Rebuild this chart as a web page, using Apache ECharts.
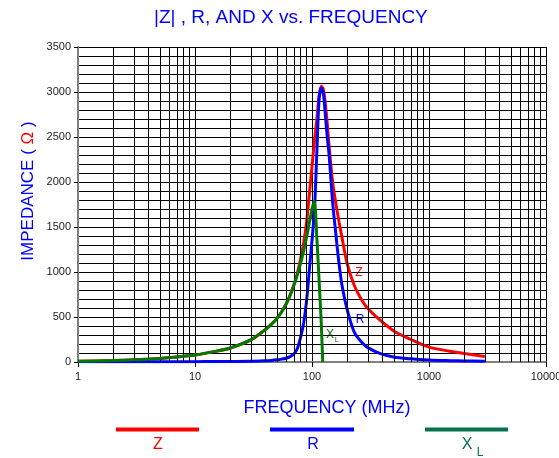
<!DOCTYPE html>
<html>
<head>
<meta charset="utf-8">
<script src="https://cdn.jsdelivr.net/npm/echarts@6/dist/echarts.min.js"></script>
<style>html,body{margin:0;padding:0;background:#fff}#c{width:559px;height:458px}</style>
</head>
<body>
<div id="c"></div>
<script>
// Frequencies (MHz) for |Z| and R
const freqZR = [1, 2, 3, 5, 7, 10, 15, 20, 30, 40, 45, 50, 55, 60, 65, 70, 75, 80, 85, 90, 95, 100, 105, 110, 115, 120, 125, 130, 135, 140, 150, 160, 170, 180, 200, 230, 270, 300, 380, 500, 700, 1000, 1500, 2000, 3000];
// |Z| (ohm)
const zValues = [8, 16, 24, 40, 56, 78, 118, 155, 245, 362, 420, 482, 558, 645, 745, 860, 990, 1150, 1330, 1560, 1870, 2170, 2460, 2700, 2960, 3065, 3030, 2870, 2650, 2400, 2000, 1760, 1560, 1390, 1090, 850, 675, 595, 467, 345, 250, 165, 120, 95, 62];
// R (ohm)
const rValues = [3, 3, 3, 3, 3, 4, 5, 6, 8, 14, 18, 24, 32, 42, 60, 88, 150, 280, 440, 690, 1030, 1350, 1690, 2330, 2920, 3045, 2980, 2750, 2500, 2300, 1780, 1420, 1100, 860, 580, 330, 210, 160, 95, 55, 35, 22, 15, 12, 8];
// Frequencies (MHz) for X_L
const freqX = [1, 2, 3, 5, 7, 10, 15, 20, 30, 40, 45, 50, 55, 60, 65, 70, 75, 80, 85, 90, 95, 100, 105, 110, 115, 120, 123.5];
// X_L (ohm)
const xValues = [8, 16, 24, 40, 56, 78, 118, 155, 245, 360, 418, 480, 555, 640, 740, 850, 970, 1100, 1240, 1390, 1550, 1700, 1785, 1385, 905, 430, 0];

const xDecades = [1, 10, 100, 1000];
const minorMultipliers = [2, 3, 4, 5, 6, 7, 8, 9];

const pairs = (xs, ys) => xs.map((x, i) => [x, ys[i]]);
const minorLines = [];
xDecades.forEach(d => minorMultipliers.forEach(k => minorLines.push({ xAxis: d * k })));

const FONT = "'Liberation Sans', Arial, sans-serif";
const chart = echarts.init(document.getElementById('c'), null, { renderer: 'canvas' });

chart.setOption({
  animation: false,
  backgroundColor: '#fff',
  title: {
    text: '|Z| , R, AND X vs. FREQUENCY',
    left: 149, top: 3,
    textStyle: { color: '#0000ff', fontSize: 19, fontWeight: 'normal', fontFamily: FONT }
  },
  grid: { left: 78, right: 13, top: 47, bottom: 96, containLabel: false, outerBoundsMode: 'none' },
  xAxis: {
    type: 'log', logBase: 10, min: 1, max: 10000,
    axisLine: { show: true, onZero: false, lineStyle: { color: '#808080', width: 2 } },
    axisTick: { show: true, length: 5, lineStyle: { color: '#000' } },
    axisLabel: { color: '#222', fontSize: 11, fontFamily: FONT, margin: 9, formatter: v => String(v) },
    splitLine: { show: true, lineStyle: { color: '#000', width: 1 } }
  },
  yAxis: {
    type: 'value', min: 0, max: 3500, interval: 500,
    axisLine: { show: true, lineStyle: { color: '#808080', width: 2 } },
    axisTick: { show: true, length: 4, lineStyle: { color: '#000' } },
    axisLabel: { color: '#222', fontSize: 11, fontFamily: FONT, margin: 7, formatter: v => String(v) },
    splitLine: { show: true, lineStyle: { color: '#000', width: 1 } },
    minorTick: { show: false, splitNumber: 5 },
    minorSplitLine: { show: true, lineStyle: { color: '#000', width: 1 } }
  },
  series: [
    {
      type: 'line', name: 'grid', data: [], z: 1, silent: true,
      markLine: {
        silent: true, symbol: 'none', animation: false,
        label: { show: false },
        lineStyle: { color: '#000', width: 1, type: 'solid' },
        data: minorLines
      }
    },
    {
      type: 'line', name: 'Z', data: pairs(freqZR, zValues), smooth: 0.3,
      showSymbol: false, z: 3, lineStyle: { color: '#ff0000', width: 3 }, itemStyle: { color: '#ff0000' }
    },
    {
      type: 'line', name: 'R', data: pairs(freqZR, rValues), smooth: 0.3,
      showSymbol: false, z: 4, lineStyle: { color: '#0000ff', width: 3 }, itemStyle: { color: '#0000ff' }
    },
    {
      type: 'line', name: 'XL', data: pairs(freqX, xValues), smooth: 0.2,
      showSymbol: false, z: 5, lineStyle: { color: '#007a00', width: 3 }, itemStyle: { color: '#007a00' }
    }
  ],
  graphic: [
    {
      type: 'text', x: 28, y: 191, rotation: Math.PI / 2,
      style: {
        text: '{b|IMPEDANCE (}{s| }{r|Ω}{s| }{b|)}',
        align: 'center', verticalAlign: 'middle',
        rich: {
          b: { fill: '#0000ff', fontSize: 17, fontFamily: FONT },
          r: { fill: '#ff0000', fontSize: 17, fontFamily: FONT },
          s: { fontSize: 17, fontFamily: FONT }
        }
      }
    },
    {
      type: 'text', x: 327, y: 408,
      style: { text: 'FREQUENCY (MHz)', fill: '#0000ff', font: '18px ' + FONT, align: 'center', verticalAlign: 'middle' }
    },
    { type: 'line', shape: { x1: 116, y1: 429.5, x2: 199, y2: 429.5 }, style: { stroke: '#ff0000', lineWidth: 4 } },
    { type: 'line', shape: { x1: 270, y1: 429.5, x2: 354, y2: 429.5 }, style: { stroke: '#0000ff', lineWidth: 4 } },
    { type: 'line', shape: { x1: 425, y1: 429.5, x2: 508, y2: 429.5 }, style: { stroke: '#087050', lineWidth: 4 } },
    { type: 'text', x: 158, y: 445, style: { text: 'Z', fill: '#ff0000', font: '16px ' + FONT, align: 'center', verticalAlign: 'middle' } },
    { type: 'text', x: 313, y: 445, style: { text: 'R', fill: '#0000ff', font: '16px ' + FONT, align: 'center', verticalAlign: 'middle' } },
    { type: 'text', x: 467, y: 445, style: { text: 'X', fill: '#087050', font: '16px ' + FONT, align: 'center', verticalAlign: 'middle' } },
    { type: 'text', x: 480, y: 453, style: { text: 'L', fill: '#087050', font: '12px ' + FONT, align: 'center', verticalAlign: 'middle' } },
    { type: 'text', x: 359, y: 273, style: { text: 'Z', fill: '#ff0000', font: '12px ' + FONT, align: 'center', verticalAlign: 'middle' } },
    { type: 'text', x: 360, y: 320, style: { text: 'R', fill: '#0000ff', font: '12px ' + FONT, align: 'center', verticalAlign: 'middle' } },
    { type: 'text', x: 330, y: 335, style: { text: 'X', fill: '#007a00', font: '12px ' + FONT, align: 'center', verticalAlign: 'middle' } },
    { type: 'text', x: 337, y: 340, style: { text: 'L', fill: '#007a00', font: '8px ' + FONT, align: 'center', verticalAlign: 'middle' } }
  ]
});
</script>
</body>
</html>
